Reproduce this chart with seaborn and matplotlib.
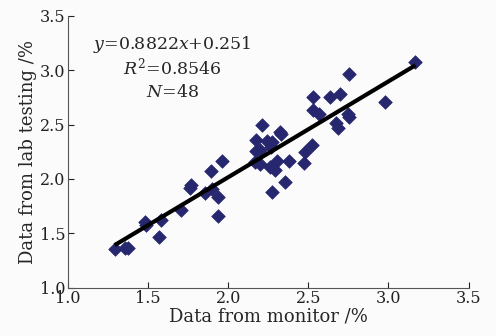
import numpy as np
import pandas as pd
import matplotlib
matplotlib.use("Agg")
import matplotlib.pyplot as plt
import seaborn as sns

# Data
monitor = [1.291, 1.354, 1.374, 1.480, 1.485, 1.578, 1.568, 1.707, 1.759, 1.770,
           1.853, 1.890, 1.901, 1.936, 1.936, 1.963, 2.171, 2.171, 2.165, 2.196,
           2.200, 2.213, 2.241, 2.275, 2.269, 2.258, 2.289, 2.275, 2.304, 2.321,
           2.331, 2.352, 2.379, 2.470, 2.477, 2.525, 2.674, 2.684, 3.169, 2.757,
           2.976, 2.530, 2.633, 2.696, 2.528, 2.567, 2.745, 2.757]
lab = [1.352, 1.367, 1.361, 1.606, 1.576, 1.622, 1.463, 1.714, 1.914, 1.945,
       1.874, 2.077, 1.910, 1.831, 1.659, 2.169, 2.359, 2.261, 2.155, 2.269,
       2.140, 2.500, 2.348, 2.339, 2.293, 2.109, 2.085, 1.878, 2.164, 2.436,
       2.415, 1.970, 2.164, 2.145, 2.249, 2.313, 2.516, 2.465, 3.078, 2.968,
       2.708, 2.751, 2.751, 2.783, 2.636, 2.599, 2.599, 2.574]
slope = 0.8822
intercept = 0.251
r2 = 0.8546
n = 48
x_ticks = [1.0, 1.5, 2.0, 2.5, 3.0, 3.5]
y_ticks = [1.0, 1.5, 2.0, 2.5, 3.0, 3.5]

df = pd.DataFrame({"monitor": monitor, "lab": lab})

sns.set_style("ticks")
plt.rcParams["font.family"] = ["DejaVu Serif"]
plt.rcParams["mathtext.fontset"] = "dejavuserif"

fig = plt.figure(figsize=(4.96, 3.36), dpi=100)
fig.patch.set_facecolor("#fbfbfb")
ax = fig.add_axes([0.1371, 0.1443, 0.8075, 0.8081])
ax.set_facecolor("#fbfbfb")

sns.scatterplot(data=df, x="monitor", y="lab", ax=ax, marker="D", s=48,
                color="#27276f", edgecolor="#27276f", linewidth=0.5, zorder=3)

xl = np.array([min(monitor), max(monitor)])
ax.plot(xl, slope * xl + intercept, color="black", lw=3.0, zorder=4,
        solid_capstyle="butt")

ax.set_xlim(1.0, 3.5)
ax.set_ylim(1.0, 3.5)
ax.set_xticks(x_ticks)
ax.set_yticks(y_ticks)
ax.set_xticklabels([f"{v:.1f}" for v in x_ticks])
ax.set_yticklabels([f"{v:.1f}" for v in y_ticks])
ax.tick_params(direction="in", length=4, width=0.8, labelsize=11.5, colors="#222222",
               pad=2)
for s in ["top", "right"]:
    ax.spines[s].set_visible(False)
for s in ["left", "bottom"]:
    ax.spines[s].set_color("#555555")
    ax.spines[s].set_linewidth(0.8)

ax.set_xlabel("Data from monitor /%", fontsize=13, labelpad=0)
ax.set_ylabel("Data from lab testing /%", fontsize=13, labelpad=2)

ax.text(1.653, 3.235, rf"$y$={slope}$x$+{intercept}", ha="center", va="center", fontsize=12.5)
ax.text(1.653, 3.023, rf"$R^2$={r2}", ha="center", va="center", fontsize=12.5)
ax.text(1.653, 2.80, rf"$N$={n}", ha="center", va="center", fontsize=12.5)

fig.savefig("out.png", dpi=100, facecolor=fig.get_facecolor())
